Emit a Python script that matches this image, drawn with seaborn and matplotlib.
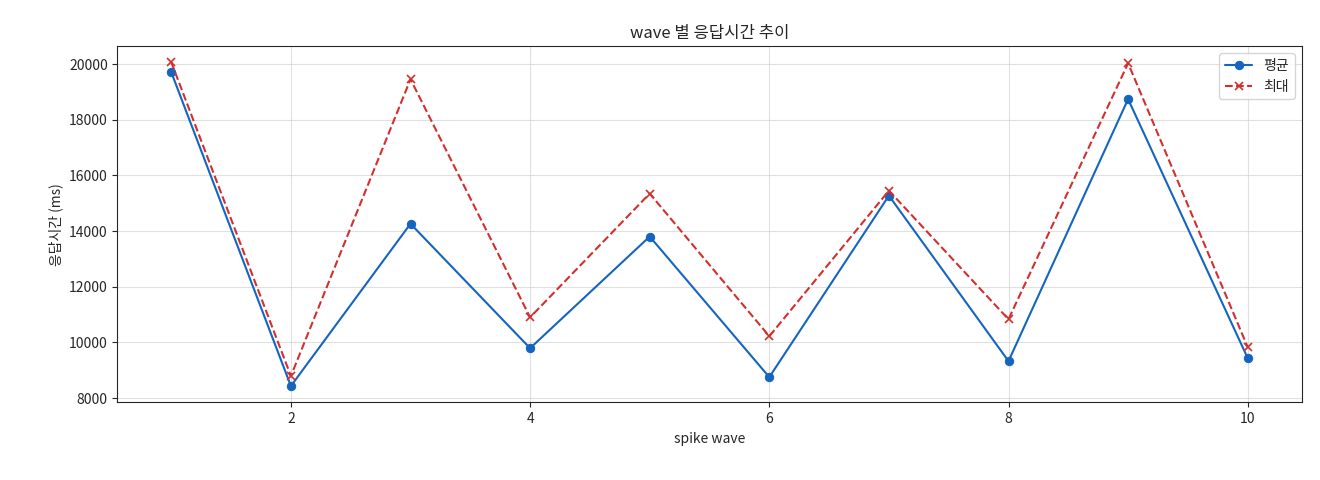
import seaborn as sns
import matplotlib.pyplot as plt
import pandas as pd

waves = [1, 2, 3, 4, 5, 6, 7, 8, 9, 10]
avg_ms = [19710, 8430, 14265, 9790, 13805, 8750, 15275, 9325, 18745, 9435]
max_ms = [20070, 8790, 19460, 10900, 15350, 10220, 15455, 10830, 20035, 9830]

sns.set_style('ticks')
plt.rcParams['font.family'] = ['Noto Sans CJK KR', 'DejaVu Sans']

df = pd.DataFrame({'wave': waves, 'avg': avg_ms, 'max': max_ms})

fig, ax = plt.subplots(figsize=(13.2, 4.8), dpi=100)
sns.lineplot(data=df, x='wave', y='avg', marker='o', markersize=6,
             markeredgecolor='#1565c0', color='#1565c0', linewidth=1.5,
             label='평균', ax=ax)
sns.lineplot(data=df, x='wave', y='max', marker='x', markersize=6,
             markeredgecolor='#d32f2f', markeredgewidth=1.2, color='#d32f2f',
             linewidth=1.5, linestyle='--', label='최대', ax=ax)
ax.grid(True, color='#cccccc', alpha=0.6, linewidth=0.8)
ax.set_title('wave 별 응답시간 추이')
ax.set_xlabel('spike wave')
ax.set_ylabel('응답시간 (ms)')
ax.legend(loc='upper right')
fig.subplots_adjust(left=0.089, right=0.986, top=0.904, bottom=0.162)
fig.savefig('out.png', dpi=100)
